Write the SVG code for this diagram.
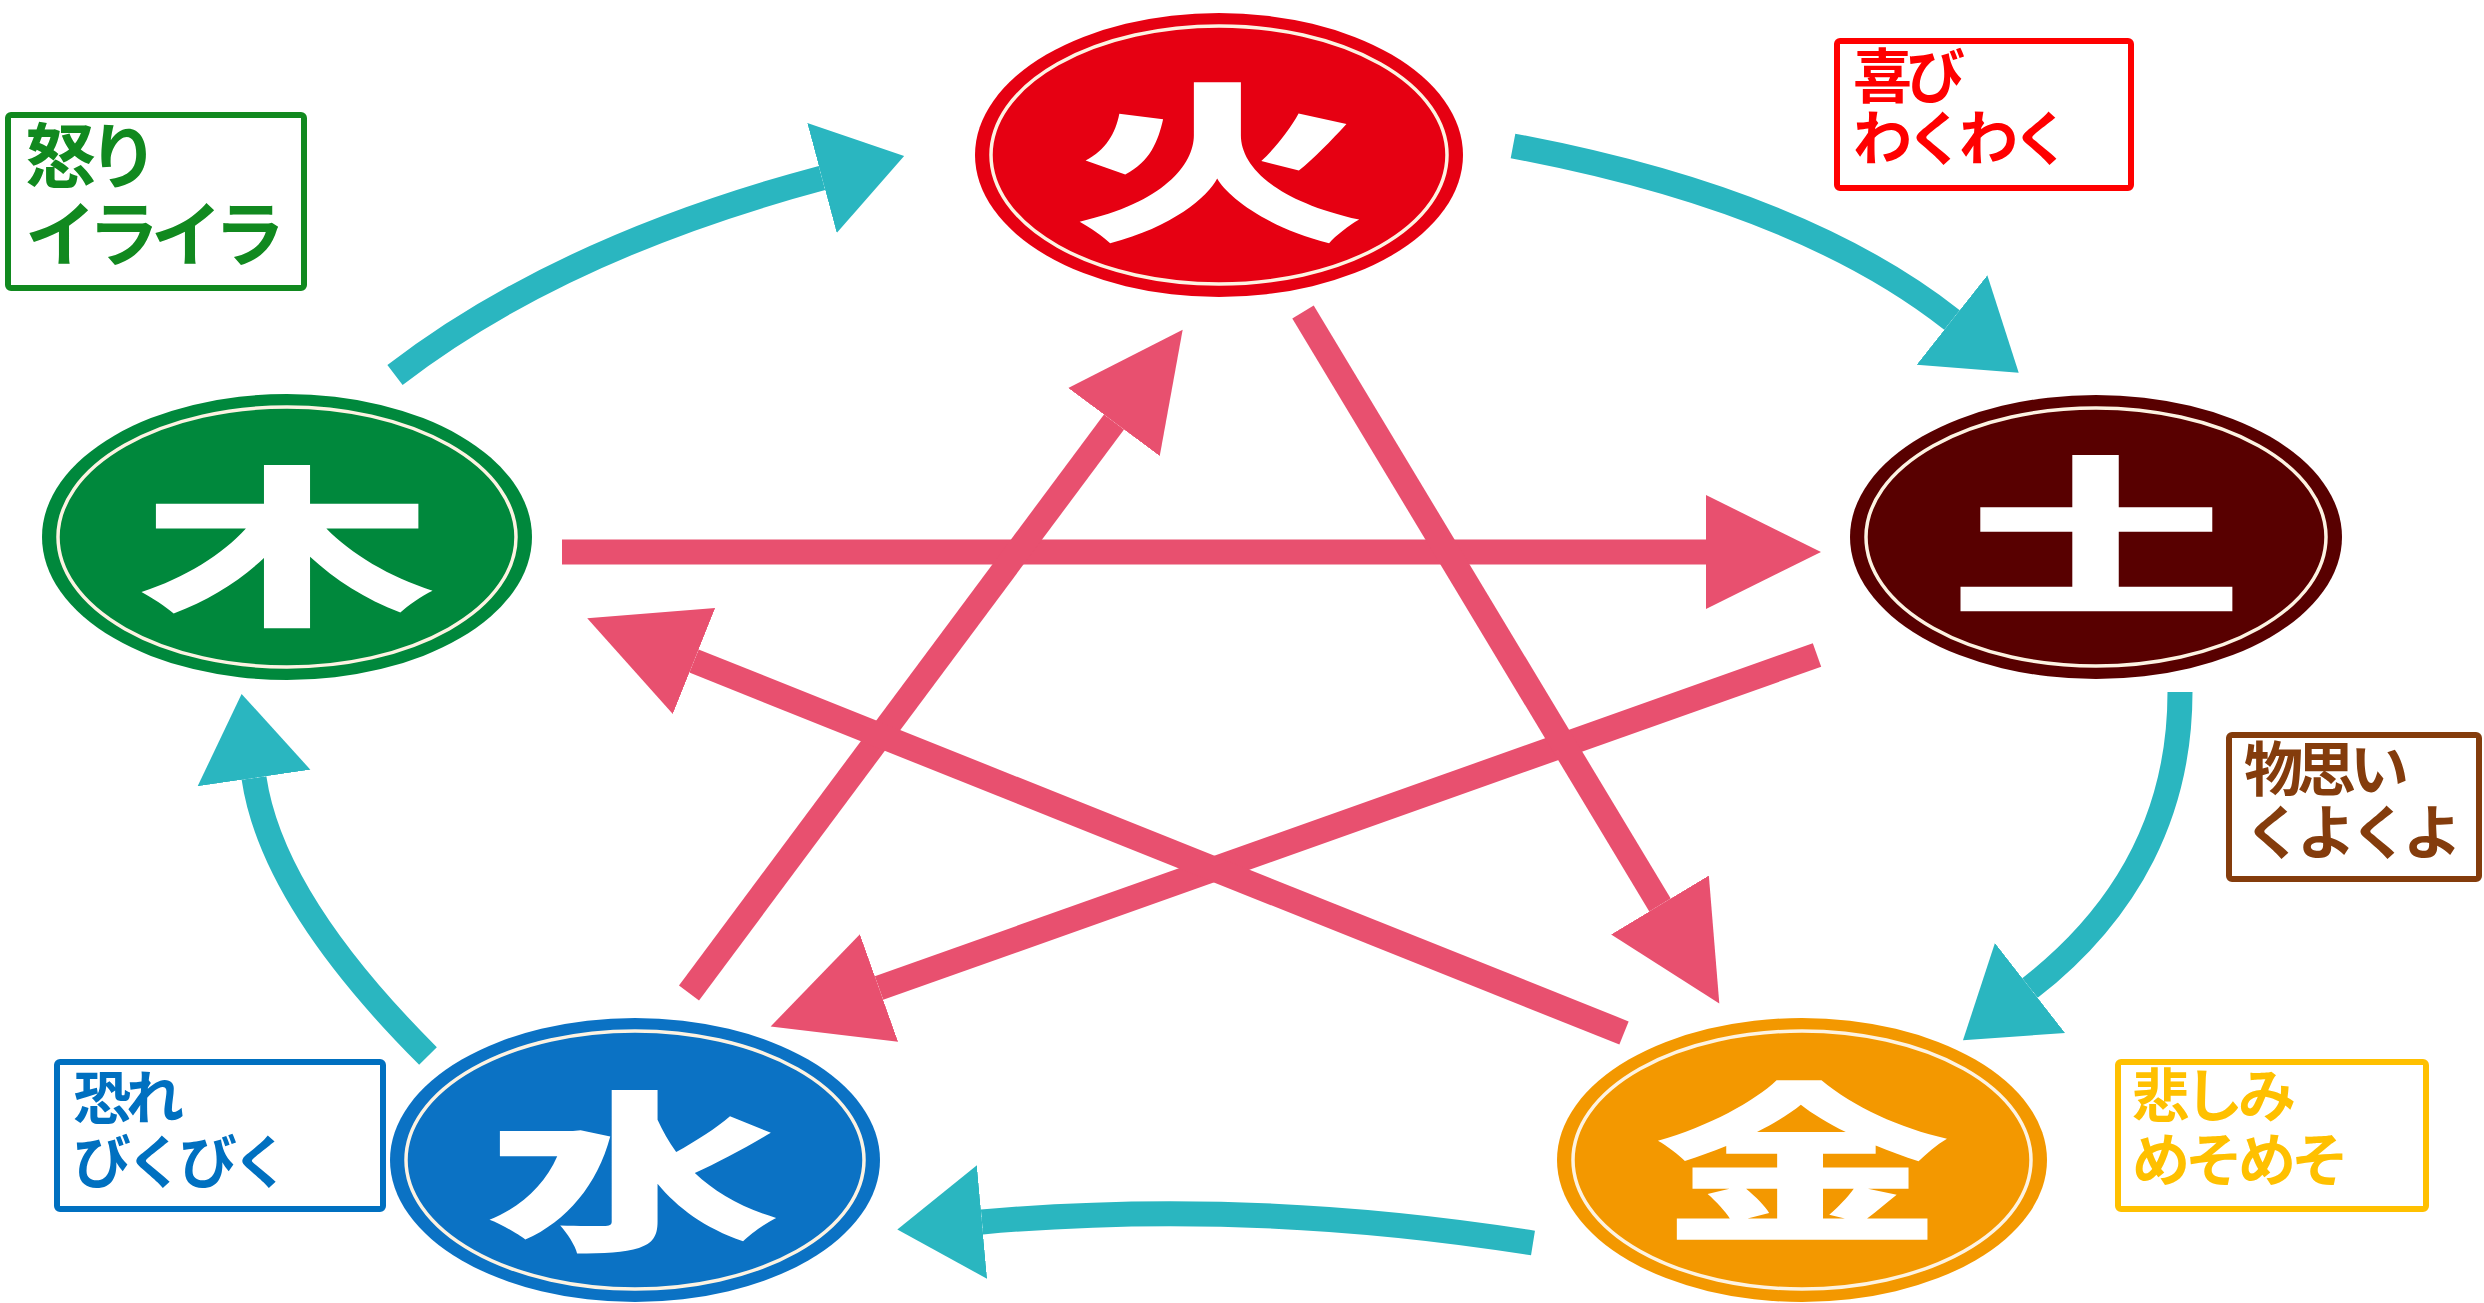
<svg xmlns="http://www.w3.org/2000/svg" width="2484" height="1303" viewBox="0 0 2484 1303">
<style>
.ring{fill:none;stroke:#fdf3e2;stroke-width:3.5}
.glyph{font-family:"Noto Sans CJK JP","Noto Sans CJK SC",sans-serif;font-weight:900;font-size:172px;fill:#ffffff;text-anchor:middle;dominant-baseline:central}
.teal{fill:none;stroke:#2ab6c0;stroke-width:25}
.pink{fill:none;stroke:#e8506f;stroke-width:25}
.box{fill:#ffffff;stroke-width:6}
.lbl{font-family:"Noto Sans CJK JP","Noto Sans CJK SC",sans-serif;font-weight:700}
</style>
<defs>
<marker id="tealHead" markerUnits="userSpaceOnUse" markerWidth="90" markerHeight="120" viewBox="0 -60 90 120" refX="0" refY="0" orient="auto">
<path d="M0,-57 L85,0 L0,57 Z" fill="#2ab6c0"/>
</marker>
<marker id="pinkHead" markerUnits="userSpaceOnUse" markerWidth="120" markerHeight="120" viewBox="0 -60 120 120" refX="0" refY="0" orient="auto">
<path d="M0,-57 L115,0 L0,57 Z" fill="#e8506f"/>
</marker>
</defs>
<rect width="2484" height="1303" fill="#ffffff"/>

<g id="connectors">
<path class="teal" d="M395,375 Q560,248 822,178" marker-end="url(#tealHead)"/>
<path class="teal" d="M1513,146 Q1800,200 1952,320" marker-end="url(#tealHead)"/>
<path class="teal" d="M2180,692 C2180,810 2130,910 2030,988" marker-end="url(#tealHead)"/>
<path class="teal" d="M1533,1243 Q1250,1198 982,1222" marker-end="url(#tealHead)"/>
<path class="teal" d="M428,1056 Q272,900 254,778" marker-end="url(#tealHead)"/>

<path class="pink" d="M562,552 L1706,552" marker-end="url(#pinkHead)"/>
<path class="pink" d="M1817,655 L879,988" marker-end="url(#pinkHead)"/>
<path class="pink" d="M689,993 L1114,422" marker-end="url(#pinkHead)"/>
<path class="pink" d="M1303,312 L1660,905" marker-end="url(#pinkHead)"/>
<path class="pink" d="M1624,1033 L694,661" marker-end="url(#pinkHead)"/>
</g>

<g id="node-fire">
<ellipse cx="1219" cy="155" rx="244" ry="142" fill="#e60012"/>
<ellipse class="ring" cx="1219" cy="155" rx="228" ry="129"/>
<text class="glyph" transform="translate(1219,152) scale(1.72,1)">火</text>
</g>
<g id="node-earth">
<ellipse cx="2096" cy="537" rx="246" ry="142" fill="#580000"/>
<ellipse class="ring" cx="2096" cy="537" rx="230" ry="129"/>
<text class="glyph" transform="translate(2096,527) scale(1.72,1)">土</text>
</g>
<g id="node-metal">
<ellipse cx="1802" cy="1160" rx="245" ry="142" fill="#f39800"/>
<ellipse class="ring" cx="1802" cy="1160" rx="229" ry="129"/>
<text class="glyph" transform="translate(1802,1153) scale(1.72,1)">金</text>
</g>
<g id="node-water">
<ellipse cx="635" cy="1160" rx="245" ry="142" fill="#0b72c4"/>
<ellipse class="ring" cx="635" cy="1160" rx="229" ry="129"/>
<text class="glyph" transform="translate(633,1162) scale(1.72,1)">水</text>
</g>
<g id="node-wood">
<ellipse cx="287" cy="537" rx="245" ry="143" fill="#00883c"/>
<ellipse class="ring" cx="287" cy="537" rx="229" ry="130"/>
<text class="glyph" transform="translate(287,537) scale(1.72,1)">木</text>
</g>

<g id="label-wood">
<rect class="box" x="8" y="115" width="296" height="173" rx="3" stroke="#11891f"/>
<text class="lbl" font-size="71" letter-spacing="-8" fill="#11891f"><tspan x="25" y="182">怒り</tspan><tspan x="25" y="260">イライラ</tspan></text>
</g>
<g id="label-fire">
<rect class="box" x="1837" y="41" width="294" height="147" rx="3" stroke="#ff0000"/>
<text class="lbl" font-size="59" letter-spacing="-6" fill="#ff0000"><tspan x="1853" y="98">喜び</tspan><tspan x="1853" y="160">わくわく</tspan></text>
</g>
<g id="label-earth">
<rect class="box" x="2229" y="735" width="250" height="144" rx="3" stroke="#843c0c"/>
<text class="lbl" font-size="59" letter-spacing="-6" fill="#843c0c"><tspan x="2244" y="791">物思い</tspan><tspan x="2244" y="854">くよくよ</tspan></text>
</g>
<g id="label-metal">
<rect class="box" x="2118" y="1062" width="308" height="147" rx="3" stroke="#ffc000"/>
<text class="lbl" font-size="58" letter-spacing="-5" fill="#ffc000"><tspan x="2132" y="1117">悲しみ</tspan><tspan x="2132" y="1181">めそめそ</tspan></text>
</g>
<g id="label-water">
<rect class="box" x="57" y="1062" width="326" height="147" rx="3" stroke="#0070c0"/>
<text class="lbl" font-size="58" letter-spacing="-5" fill="#0070c0"><tspan x="73" y="1119">恐れ</tspan><tspan x="73" y="1183">びくびく</tspan></text>
</g>
</svg>
